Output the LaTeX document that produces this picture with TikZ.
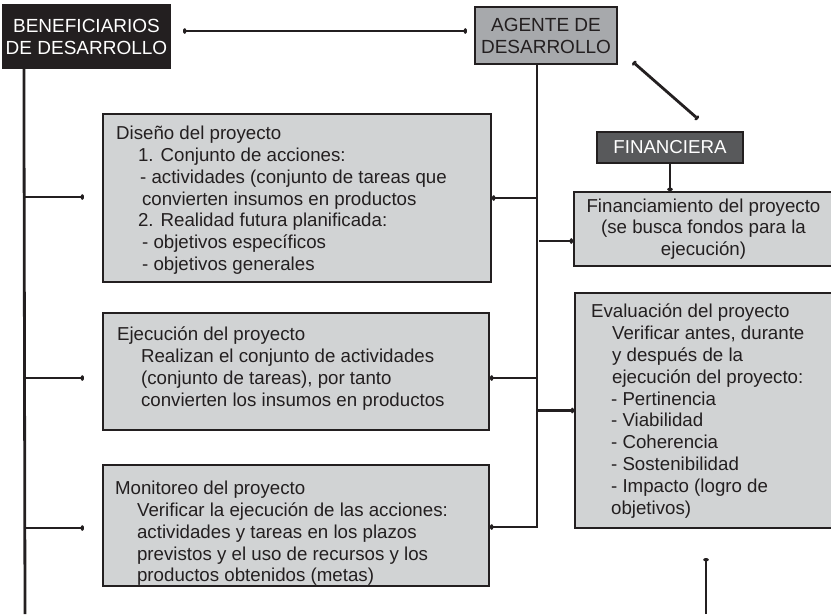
\documentclass[tikz,border=0pt]{standalone}
\usepackage{fontspec}
\setmainfont{Liberation Sans}
\usetikzlibrary{arrows.meta}
\definecolor{ink}{HTML}{231F20}
\definecolor{paleg}{HTML}{D1D3D4}
\definecolor{midg}{HTML}{A7A9AC}
\definecolor{darkg}{HTML}{58595B}
\newcommand{\ind}[1][22pt]{\hspace*{#1}}
\begin{document}
\begin{tikzpicture}[x=1pt, y=-1pt,
	font=\fontsize{18.7}{21.8}\selectfont, text=ink,
	>={To[length=3pt,width=6pt]},
	box/.style={draw=ink, line width=2.2pt, rectangle, inner sep=0pt},
	head/.style={box, align=center, font=\fontsize{19}{22}\selectfont},
	txt/.style={anchor=north west, inner sep=0pt, align=left},
	link/.style={draw=ink, line width=2.8pt, ->}]
\useasboundingbox (0,0) rectangle (831,614);
\node[head, fill=ink, text=white, minimum width=167pt, minimum height=63pt]
	(benef) at (86.5,36.5) {BENEFICIARIOS\\DE DESARROLLO};
\node[head, fill=midg, minimum width=142pt, minimum height=57pt]
	(agente) at (546,35.5) {AGENTE DE\\DESARROLLO};
\node[box, fill=darkg, text=white, minimum width=146pt, minimum height=31pt]
	(financiera) at (670,147.5) {FINANCIERA};
\node[box, fill=paleg, align=center, minimum width=259pt, minimum height=74pt]
	(financ) at (703.5,229) {Financiamiento del proyecto\\(se busca fondos para la\\ejecución)};
\node[box, fill=paleg, minimum width=388pt, minimum height=168pt] (diseno) at (297,198) {};
\node[box, fill=paleg, minimum width=386pt, minimum height=117pt] (ejec) at (296,371.5) {};
\node[box, fill=paleg, minimum width=386pt, minimum height=121pt] (monit) at (296,525.5) {};
\node[box, fill=paleg, minimum width=258pt, minimum height=235pt] (eval) at (704,410.5) {};
% box texts
\node[txt] (disenotx) at ([shift={(14pt,-13pt)}]diseno.north west)
	{Diseño del proyecto\\\ind 1. Conjunto de acciones:\\\ind[24pt]- actividades (conjunto de tareas que\\
	\ind[26pt]convierten insumos en productos\\\ind 2. Realidad futura planificada:\\
	\ind[26pt]- objetivos específicos\\\ind[26pt]- objetivos generales};
\node[txt] (ejectx) at ([shift={(15pt,-15pt)}]ejec.north west)
	{Ejecución del proyecto\\\ind[24pt]Realizan el conjunto de actividades\\
	\ind[24pt](conjunto de tareas), por tanto\\\ind[24pt]convierten los insumos en productos};
\node[txt] (monittx) at ([shift={(13pt,-17pt)}]monit.north west)
	{Monitoreo del proyecto\\\ind Verificar la ejecución de las acciones:\\\ind actividades y tareas en los plazos\\
	\ind previstos y el uso de recursos y los\\\ind productos obtenidos (metas)};
\node[txt] (evaltx) at ([shift={(17pt,-12pt)}]eval.north west)
	{Evaluación del proyecto\\\ind[21pt]Verificar antes, durante\\\ind[21pt]y después de la\\
	\ind[21pt]ejecución del proyecto:\\\ind[20pt]- Pertinencia\\\ind[20pt]- Viabilidad\\
	\ind[20pt]- Coherencia\\\ind[20pt]- Sostenibilidad\\\ind[20pt]- Impacto (logro de\\\ind[20pt]objetivos)};
% connectors
\coordinate (lspine) at ([xshift=22pt]benef.south west);
\coordinate (ltail) at (25,614);
\coordinate (aspine) at ([xshift=-9pt]agente.south);
\coordinate (etail) at (706,614);
\draw[link, -] (lspine) -- (ltail);
\foreach \b/\s in {diseno/1, ejec/-6.5, monit/-2.5}
	\draw[link, shorten >=18pt] ([yshift=\s pt]\b.west -| lspine) -- ([yshift=\s pt]\b.west);
\draw[link, <->] ([shift={(12pt,5.5pt)}]benef.east) -- ([shift={(-7pt,4.5pt)}]agente.west);
\draw[link] (aspine) |- ([yshift=-1.5pt]monit.east);
\foreach \b/\s in {diseno/0, ejec/-6.5}
	\draw[link] ([yshift=\s pt]\b.east -| aspine) -- ([yshift=\s pt]\b.east);
\draw[link] ([shift={(2pt,-12pt)}]financ.west -| aspine) -- ([yshift=-12pt]financ.west);
\draw[link] (eval.west -| aspine) -- (eval.west);
\draw[link, <->] ([shift={(15pt,3pt)}]agente.south east) -- ([shift={(28pt,12pt)}]financiera.north);
\draw[link] (financiera.south) -- (financiera.south |- financ.north);
\draw[link] (etail) -- ([yshift=-29pt]eval.south -| etail);
\end{tikzpicture}
\end{document}
